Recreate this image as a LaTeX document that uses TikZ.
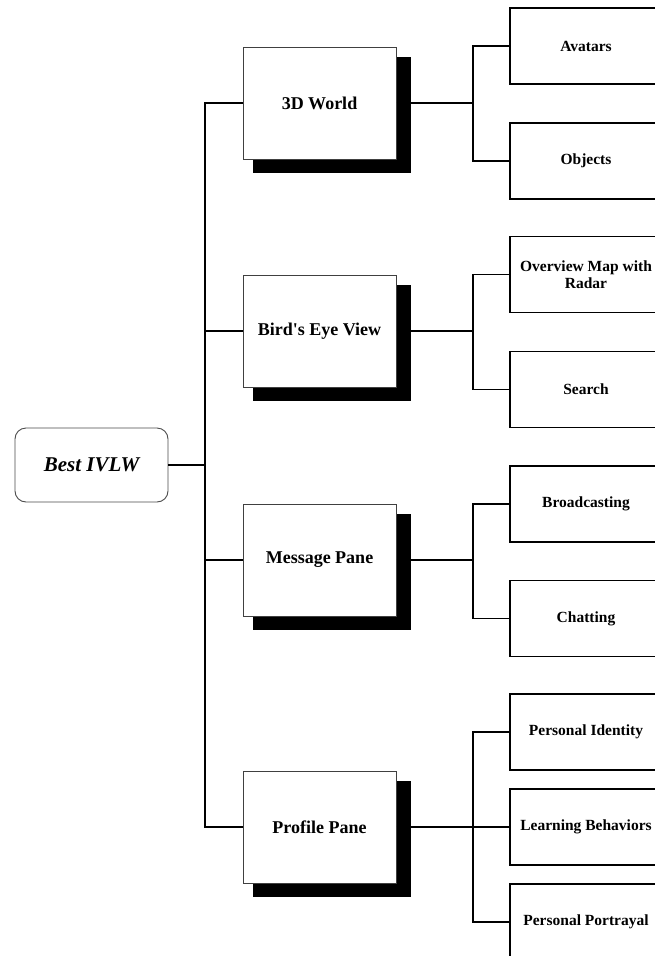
\documentclass[tikz,border=0pt]{standalone}
\usepackage{fontspec}
\setmainfont{Liberation Serif}
\usetikzlibrary{calc}
\pgfdeclarelayer{background}
\pgfsetlayers{background,main}
\tikzset{
  rootbox/.style={draw=black!70, line width=0.9pt, rounded corners=11pt, fill=white,
    minimum width=153pt, minimum height=74pt,
    font=\fontsize{21}{24}\selectfont\bfseries\itshape},
  midbox/.style={draw=black!75, line width=1pt, fill=white,
    minimum width=153pt, minimum height=112pt,
    font=\fontsize{18}{21}\selectfont\bfseries},
  leafbox/.style={draw=black, line width=1.8pt, fill=white,
    minimum width=152pt, minimum height=76pt, align=center,
    font=\fontsize{15.5}{16.5}\selectfont\bfseries},
  trunk/.style={line width=2pt, black},
  link/.style={line width=1.5pt, black},
}
\newcommand{\boxshadow}[1]{%
  \begin{pgfonlayer}{background}
    \fill[black] ($(#1.north west)+(10,10)$) rectangle ($(#1.south east)+(14,13)$);
  \end{pgfonlayer}}
\begin{document}
\begin{tikzpicture}[x=1pt,y=-1pt]
  \useasboundingbox (0,0) rectangle (655,956);
  \clip (0,0) rectangle (655,956);
  \begin{pgfonlayer}{background}
    \fill[white] (0,0) rectangle (655,956);
  \end{pgfonlayer}

  % root
  \node[rootbox] (root) at (91.5,465) {Best IVLW};

  % second level, each with a solid drop shadow
  \node[midbox] (m1) at (319.5,103) {3D World};
  \node[midbox] (m2) at (319.5,331) {Bird\textquotesingle s Eye View};
  \node[midbox] (m3) at (319.5,560) {Message Pane};
  \node[midbox] (m4) at (319.5,827) {Profile Pane};
  \boxshadow{m1}\boxshadow{m2}\boxshadow{m3}\boxshadow{m4}

  % leaves
  \node[leafbox] (a1) at (586,46) {Avatars};
  \node[leafbox] (a2) at (586,161) {Objects};
  \node[leafbox] (b1) at (586,274.5) {Overview Map with\\Radar};
  \node[leafbox] (b2) at (586,389.5) {Search};
  \node[leafbox] (c1) at (586,504) {Broadcasting};
  \node[leafbox] (c2) at (586,618.5) {Chatting};
  \node[leafbox] (d1) at (586,732) {Personal Identity};
  \node[leafbox] (d2) at (586,827) {Learning Behaviors};
  \node[leafbox] (d3) at (586,922) {Personal Portrayal};

  % trunk from the root to the four panes
  \coordinate (t) at (205,465);
  \draw[link] (root.east) -- (t);
  \draw[trunk] (m1.west) -| (t) |- (m4.west);
  \draw[link] (m2.west) -- (m2.west -| t);
  \draw[link] (m3.west) -- (m3.west -| t);

  % brackets from each pane to its items
  \coordinate (j1) at (473,103);
  \coordinate (j2) at (473,331);
  \coordinate (j3) at (473,560);
  \coordinate (j4) at (473,827);
  \draw[link] (m1.east) -- (j1);
  \draw[link] (a1.west) -| (j1) |- (a2.west);
  \draw[link] (m2.east) -- (j2);
  \draw[link] (b1.west) -| (j2) |- (b2.west);
  \draw[link] (m3.east) -- (j3);
  \draw[link] (c1.west) -| (j3) |- (c2.west);
  \draw[link] (m4.east) -- (d2.west);
  \draw[link] (d1.west) -| (j4) |- (d3.west);
\end{tikzpicture}
\end{document}
